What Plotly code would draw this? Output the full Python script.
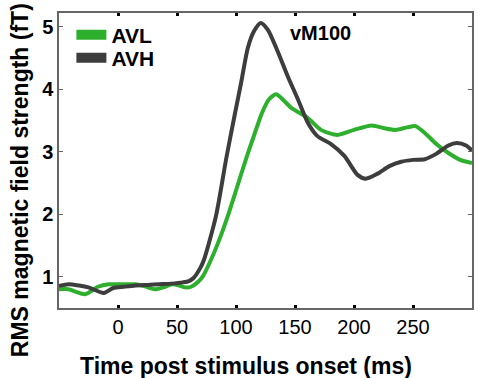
import plotly.graph_objects as go

avh_t = [-50, -42, -33, -25, -12, -4, 5, 15, 25, 35, 45, 55, 60, 64, 70, 73, 83, 92, 99, 104.5, 110, 115, 121, 127, 135, 144, 152, 161, 169, 180, 192, 203, 210, 220, 230, 240, 250, 260, 270, 280, 287, 295, 300]
avh_v = [0.85, 0.88, 0.86, 0.83, 0.74, 0.82, 0.84, 0.86, 0.87, 0.88, 0.89, 0.91, 0.93, 0.98, 1.15, 1.28, 1.97, 2.92, 3.60, 4.12, 4.66, 4.92, 5.06, 4.95, 4.62, 4.20, 3.86, 3.46, 3.25, 3.13, 2.93, 2.63, 2.57, 2.65, 2.77, 2.84, 2.87, 2.88, 2.97, 3.10, 3.14, 3.10, 3.02]

avl_t = [-50, -42, -28, -17, -8, 0, 10, 15, 22, 31, 40, 46, 52, 57, 62, 68, 72, 79, 87, 93, 100, 105, 110, 116, 122, 128, 134, 140, 147, 154, 161, 172, 186, 200, 215, 225, 235, 245, 252, 260, 270, 280, 290, 300]
avl_v = [0.80, 0.80, 0.72, 0.84, 0.88, 0.88, 0.88, 0.88, 0.85, 0.80, 0.84, 0.88, 0.86, 0.83, 0.84, 0.92, 1.01, 1.28, 1.65, 1.97, 2.38, 2.68, 2.97, 3.30, 3.62, 3.84, 3.92, 3.83, 3.70, 3.62, 3.54, 3.35, 3.27, 3.35, 3.42, 3.38, 3.35, 3.39, 3.41, 3.30, 3.12, 2.98, 2.87, 2.82]

x_ticks = [0, 50, 100, 150, 200, 250]
y_ticks = [1, 2, 3, 4, 5]

GREEN = "#2eb02e"
DARK = "#3d3d3d"
FONT = "Liberation Sans, Arial, sans-serif"

fig = go.Figure()
fig.add_trace(go.Scatter(x=avl_t, y=avl_v, mode="lines", line=dict(color=GREEN, width=4, shape="spline", smoothing=0.7), showlegend=False))
fig.add_trace(go.Scatter(x=avh_t, y=avh_v, mode="lines", line=dict(color=DARK, width=4, shape="spline", smoothing=0.7), showlegend=False))
# legend entries
fig.add_trace(go.Scatter(x=[None], y=[None], mode="lines", name="AVL", line=dict(color=GREEN, width=12), legend="legend"))
fig.add_trace(go.Scatter(x=[None], y=[None], mode="lines", name="AVH", line=dict(color=DARK, width=12), legend="legend2"))

leg_common = dict(xanchor="left", yanchor="top", bgcolor="rgba(0,0,0,0)",
                  font=dict(size=21, family=FONT, weight="bold"), itemwidth=30)

fig.update_layout(
    width=478, height=378,
    margin=dict(l=59, r=4, t=13, b=70),
    paper_bgcolor="white", plot_bgcolor="white",
    font=dict(family=FONT, color="black", size=17),
    legend=dict(x=0.03, y=0.995, **leg_common),
    legend2=dict(x=0.03, y=0.917, **leg_common),
    annotations=[
        dict(text="<b>vM100</b>", x=0.633, y=0.932, xref="paper", yref="paper", showarrow=False,
             font=dict(size=20, family=FONT), xanchor="center", yanchor="middle"),
        dict(text="<b>Time post stimulus onset (ms)</b>", x=0.453, y=-0.197, xref="paper", yref="paper",
             showarrow=False, font=dict(size=23, family=FONT), xanchor="center", yanchor="middle"),
        dict(text="<b>RMS magnetic field strength (fT)</b>", x=-0.094, y=0.434, xref="paper", yref="paper",
             showarrow=False, font=dict(size=23, family=FONT), textangle=-90, xanchor="center", yanchor="middle"),
    ],
)
fig.update_xaxes(range=[-50, 300], tickvals=x_ticks, showgrid=False, zeroline=False,
                 showline=True, linecolor="#666666", linewidth=1.5, mirror="ticks",
                 ticks="inside", ticklen=3, tickwidth=2.5, tickcolor="black",
                 tickfont=dict(size=20, family=FONT))
fig.update_yaxes(range=[0.5, 5.22], tickvals=y_ticks, showgrid=False, zeroline=False,
                 showline=True, linecolor="#666666", linewidth=1.5, mirror="ticks",
                 ticks="inside", ticklen=4, tickwidth=1.2, tickcolor="#666666",
                 tickfont=dict(size=20, family=FONT, weight="bold"))

fig.write_html("out.html")
